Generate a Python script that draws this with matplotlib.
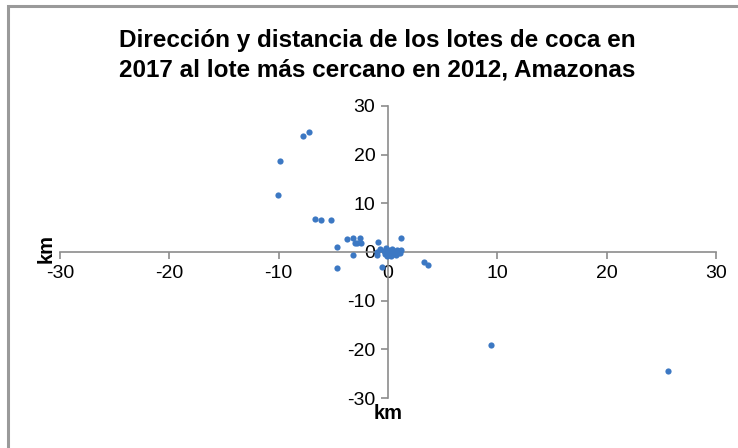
import matplotlib
matplotlib.use("Agg")
import matplotlib.pyplot as plt
from matplotlib.patches import Rectangle

plt.rcParams['font.family'] = ['Liberation Sans', 'DejaVu Sans']
plt.rcParams['axes.unicode_minus'] = False

# desplazamiento (km) de cada lote 2017 respecto al lote 2012 más cercano
dx = [-10.1, -9.9, -7.8, -7.2, -6.7, -6.1, -5.2, -4.7, -4.7,
      -3.7, -3.2, -2.6, -3.0, -2.8, -2.5, -3.2, -0.9, -1.0, -1.0, -0.5,
      1.2, -0.7, -0.4, -0.2, 0.0, 0.2, 0.4, 0.6, 0.8, 1.0, 1.2,
      -0.3, 0.1, 0.5, 0.9, -0.1, 0.3, 0.7, 1.1,
      3.3, 3.7, 9.4, 25.6]
dy = [11.8, 18.7, 23.8, 24.6, 6.8, 6.6, 6.6, 1.0, -3.3,
      2.7, 2.9, 2.9, 1.8, 1.8, 1.8, -0.6, 2.1, 0.0, -0.6, -3.1,
      2.9, 0.6, 0.3, 0.8, 0.5, 0.2, 0.6, 0.3, 0.5, 0.2, 0.4,
      -0.4, -0.2, -0.5, -0.3, -0.8, -0.9, -0.6, -0.2,
      -2.1, -2.7, -19.1, -24.4]

ticks = [-30, -20, -10, 0, 10, 20, 30]

fig = plt.figure(figsize=(7.38, 4.48), dpi=100)
ax = fig.add_axes([0.0813, 0.1116, 0.8887, 0.6518])

ax.scatter(dx, dy, s=20, color='#3C78C3', zorder=3, linewidths=0)

ax.set_xlim(-30, 30)
ax.set_ylim(-30, 30)
ax.set_xticks(ticks)
ax.set_yticks(ticks)

for s in ['top', 'right']:
    ax.spines[s].set_visible(False)
ax.spines['left'].set_position(('data', 0))
ax.spines['bottom'].set_position(('data', 0))
for s in ['left', 'bottom']:
    ax.spines[s].set_color('#8C8C8C')
    ax.spines[s].set_linewidth(1.2)

ax.tick_params(axis='both', direction='out', length=5, width=1.2,
               color='#8C8C8C', labelsize=14, pad=4)

fig.text(0.511, 0.876, 'Dirección y distancia de los lotes de coca en\n'
         '2017 al lote más cercano en 2012, Amazonas',
         fontsize=17.5, fontweight='bold', ha='center', va='center',
         linespacing=1.35)

fig.text(0.062, 0.445, 'km', rotation=90, fontsize=14.5, fontweight='bold',
         ha='center', va='center')
fig.text(0.526, 0.078, 'km', fontsize=14.5, fontweight='bold',
         ha='center', va='center')

# marco del área del gráfico
fig.patches.append(Rectangle((8 / 738, -0.1), 1.2, 1.1 - 6 / 448,
                             transform=fig.transFigure, fill=False,
                             edgecolor='#9A9A9A', linewidth=2.2))

fig.savefig('out.png', dpi=100)
